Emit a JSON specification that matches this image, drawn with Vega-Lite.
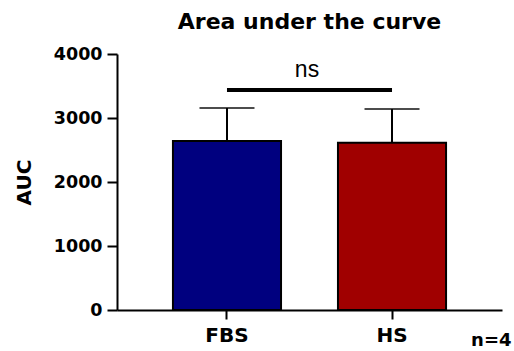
{
  "$schema": "https://vega.github.io/schema/vega-lite/v6.json",
  "width": 385,
  "height": 256,
  "autosize": "none",
  "padding": {"left": 117, "top": 54, "right": 12, "bottom": 41},
  "background": "white",
  "title": {
    "text": "Area under the curve",
    "font": "DejaVu Sans",
    "fontSize": 22,
    "fontWeight": "bold",
    "color": "black",
    "anchor": "middle",
    "frame": "group",
    "offset": 11
  },
  "datasets": {
    "bars": [
      {"group": "FBS", "auc": 2640, "upper": 3156},
      {"group": "HS", "auc": 2615, "upper": 3140}
    ],
    "sig": [
      {"from": "FBS", "to": "HS", "y": 3437, "label": "ns", "labelY": 3640}
    ]
  },
  "config": {
    "view": {"stroke": null},
    "axis": {
      "domainColor": "black",
      "domainWidth": 2,
      "tickColor": "black",
      "tickWidth": 2,
      "tickSize": 10,
      "grid": false,
      "labelFont": "DejaVu Sans",
      "labelFontWeight": "bold",
      "labelColor": "black",
      "titleFont": "DejaVu Sans",
      "titleFontWeight": "bold",
      "titleColor": "black"
    }
  },
  "layer": [
    {
      "data": {"name": "bars"},
      "mark": {"type": "bar", "stroke": "black", "strokeWidth": 2},
      "encoding": {
        "x": {
          "field": "group",
          "type": "nominal",
          "sort": ["FBS", "HS"],
          "scale": {"paddingInner": 0.345, "paddingOuter": 0.339},
          "axis": {
            "labelAngle": 0,
            "labelFontSize": 20,
            "labelPadding": 6,
            "tickSize": 9,
            "title": "n=4",
            "titleFontSize": 18,
            "titleAnchor": "end",
            "titleAlign": "right",
            "titleBaseline": "alphabetic",
            "titleX": 394,
            "titleY": 35
          }
        },
        "y": {
          "field": "auc",
          "type": "quantitative",
          "scale": {"domain": [0, 4000], "nice": false},
          "axis": {
            "values": [0, 1000, 2000, 3000, 4000],
            "format": "d",
            "labelFontSize": 17.5,
            "labelPadding": 5,
            "title": "AUC",
            "titleFontSize": 20,
            "titlePadding": 19
          }
        },
        "color": {
          "field": "group",
          "type": "nominal",
          "scale": {"domain": ["FBS", "HS"], "range": ["#00007F", "#A00000"]},
          "legend": null
        }
      }
    },
    {
      "data": {"name": "bars"},
      "mark": {"type": "rule", "color": "black", "strokeWidth": 2},
      "encoding": {
        "x": {"field": "group", "type": "nominal", "sort": ["FBS", "HS"]},
        "y": {"field": "auc", "type": "quantitative"},
        "y2": {"field": "upper"}
      }
    },
    {
      "data": {"name": "bars"},
      "mark": {"type": "tick", "color": "black", "thickness": 2, "size": 55},
      "encoding": {
        "x": {"field": "group", "type": "nominal", "sort": ["FBS", "HS"]},
        "y": {"field": "upper", "type": "quantitative"}
      }
    },
    {
      "data": {"name": "sig"},
      "mark": {"type": "rule", "color": "black", "strokeWidth": 4},
      "encoding": {
        "x": {"field": "from", "type": "nominal"},
        "x2": {"field": "to"},
        "y": {"field": "y", "type": "quantitative"}
      }
    },
    {
      "data": {"name": "sig"},
      "mark": {"type": "text", "font": "Liberation Sans", "fontSize": 23, "color": "black", "baseline": "alphabetic", "align": "center"},
      "encoding": {
        "x": {"field": "from", "type": "nominal", "bandPosition": 1.24},
        "y": {"field": "labelY", "type": "quantitative"},
        "text": {"field": "label"}
      }
    }
  ]
}
